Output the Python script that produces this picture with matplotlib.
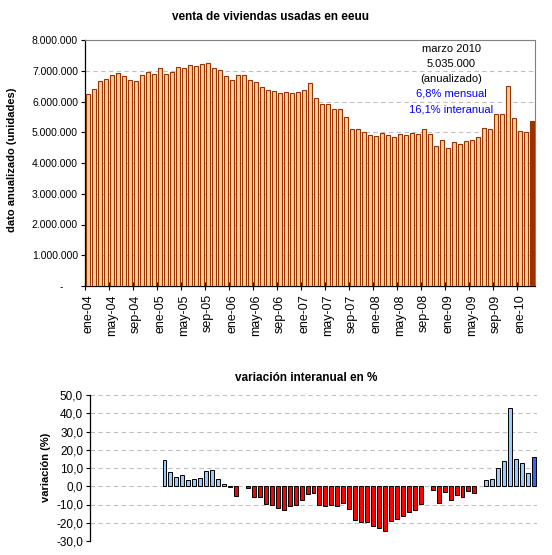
import matplotlib
matplotlib.use("Agg")
import matplotlib.pyplot as plt
import numpy

plt.rcParams["font.family"] = ["Liberation Sans", "DejaVu Sans"]

# ventas anualizadas, millones de viviendas, ene-04 .. mar-10
ventas = [
    6.24, 6.41, 6.67, 6.73, 6.86, 6.93, 6.83, 6.70, 6.67, 6.86, 6.97, 6.89,
    7.09, 6.89, 6.96, 7.12, 7.09, 7.19, 7.16, 7.22, 7.25, 7.09, 7.02, 6.83,
    6.70, 6.86, 6.87, 6.71, 6.64, 6.48, 6.38, 6.35, 6.29, 6.32, 6.29, 6.32,
    6.37, 6.61, 6.13, 5.93, 5.93, 5.77, 5.77, 5.51, 5.12, 5.09, 5.02, 4.92,
    4.89, 4.96, 4.92, 4.85, 4.95, 4.91, 4.97, 4.94, 5.10, 4.94, 4.55, 4.74,
    4.48, 4.68, 4.61, 4.71, 4.74, 4.84, 5.14, 5.10, 5.60, 5.60, 6.51, 5.46,
    5.04, 5.01, 5.37,
]

# variacion interanual en %, ene-05 .. mar-10
variacion = [
    14.2, 7.7, 4.9, 6.0, 3.3, 3.8, 4.4, 8.2, 8.8, 3.8, 1.1, -0.5,
    -5.5, 0.0, -1.2, -6.0, -6.0, -9.9, -10.4, -12.0, -13.1, -10.9, -10.4, -7.7,
    -4.4, -3.8, -10.4, -10.9, -10.4, -10.9, -9.3, -12.6, -18.6, -19.7, -19.7, -21.9,
    -23.0, -24.6, -19.2, -18.1, -16.4, -14.2, -13.1, -9.9, 0.0, -2.2, -9.3, -3.3,
    -7.7, -4.9, -6.0, -2.7, -3.8, 0.0, 3.3, 3.8, 9.9, 13.7, 42.7, 14.8,
    12.6, 7.1, 15.9,
]

etiquetas_x = [
    "ene-04", "may-04", "sep-04", "ene-05", "may-05", "sep-05", "ene-06",
    "may-06", "sep-06", "ene-07", "may-07", "sep-07", "ene-08", "may-08",
    "sep-08", "ene-09", "may-09", "sep-09", "ene-10",
]

nota = ["marzo 2010", "5.035.000", "(anualizado)"]
nota_azul = ["6,8% mensual", "16,1% interanual"]

W, H = 552.0, 555.0
fig = plt.figure(figsize=(W / 100, H / 100), dpi=100)
fig.patch.set_facecolor("white")

# ---- grafico de ventas
n = len(ventas)
x = numpy.arange(n)
ax1 = fig.add_axes([85 / W, 1 - 286 / H, 450 / W, 246 / H])
colores = ["#FFCC99"] * (n - 1) + ["#993300"]
ax1.bar(x, numpy.array(ventas) * 1e6, width=0.75, color=colores,
        edgecolor="#993300", linewidth=0.8, zorder=3)
ax1.set_xlim(-0.5, n - 0.5)
ax1.set_ylim(0, 8e6)

yt = list(range(0, 8000001, 1000000))
ax1.set_yticks(yt)
ax1.set_yticklabels(["-     "] + ["{:,}".format(v).replace(",", ".") for v in yt[1:]],
                    fontsize=7.5)
ax1.yaxis.grid(True, linestyle=(0, (4, 3)), color="#C0C0C0", linewidth=0.8)
ax1.set_axisbelow(True)

ax1.set_xticks(numpy.arange(-0.5, n - 1, 4))
ax1.set_xticklabels([])
ax1.set_xticks(numpy.arange(0, n, 4), minor=True)
ax1.set_xticklabels(etiquetas_x, minor=True, rotation=90, fontsize=9)
ax1.tick_params(axis="x", which="major", direction="inout", length=6, width=0.8)
ax1.tick_params(axis="x", which="minor", length=0, pad=6)
ax1.tick_params(axis="y", direction="out", length=3, width=0.8, pad=2)

for s in ["top", "right"]:
    ax1.spines[s].set_color("#808080")
for s in ["left", "bottom"]:
    ax1.spines[s].set_color("black")
    ax1.spines[s].set_linewidth(0.9)

ys = [49, 64, 79, 94, 109]
textos = nota + nota_azul
for i in range(len(textos)):
    color = "black" if i < len(nota) else "#0000FF"
    ax1.text((451 - 85) / 450.0, (286 - ys[i]) / 246.0, textos[i], color=color,
             fontsize=8, ha="center", va="center", transform=ax1.transAxes)

fig.text(271 / W, 1 - 17 / H, "venta de viviendas usadas en eeuu",
         fontsize=8.5, fontweight="bold", ha="center", va="center")
fig.text(12.5 / W, 1 - 160 / H, "dato anualizado (unidades)", rotation=90,
         fontsize=8, fontweight="bold", ha="center", va="center")

# ---- grafico de variacion interanual
ax2 = fig.add_axes([90 / W, 1 - 541 / H, 447 / W, 146 / H])
inicio = n - len(variacion)
xv = []
hv = []
cv = []
for i in range(len(variacion)):
    v = variacion[i]
    if v == 0.0:
        continue
    xv.append(inicio + i)
    hv.append(v)
    if i == len(variacion) - 1:
        cv.append("#3366FF")
    elif v > 0:
        cv.append("#99CCFF")
    else:
        cv.append("#FF0000")
ax2.bar(xv, hv, width=0.67, color=cv, edgecolor="black", linewidth=0.7, zorder=3)
ax2.set_xlim(-0.5, n - 0.5)
ax2.set_ylim(-30, 50)

yt2 = list(range(-30, 51, 10))
ax2.set_yticks(yt2)
ax2.set_yticklabels(["{:.1f}".format(v).replace(".", ",") for v in yt2], fontsize=8.5)
ax2.yaxis.grid(True, linestyle=(0, (4, 3)), color="#C0C0C0", linewidth=0.8)
ax2.set_axisbelow(True)
ax2.set_xticks([])
ax2.tick_params(axis="y", direction="out", length=3, width=0.8, pad=2)
for s in ["top", "right", "bottom"]:
    ax2.spines[s].set_visible(False)
ax2.spines["left"].set_linewidth(0.9)

fig.text(306 / W, 1 - 378 / H, "variación interanual en %",
         fontsize=8.5, fontweight="bold", ha="center", va="center")
fig.text(46 / W, 1 - 467 / H, "variación (%)", rotation=90,
         fontsize=8, fontweight="bold", ha="center", va="center")

fig.savefig("out.png", dpi=100)
